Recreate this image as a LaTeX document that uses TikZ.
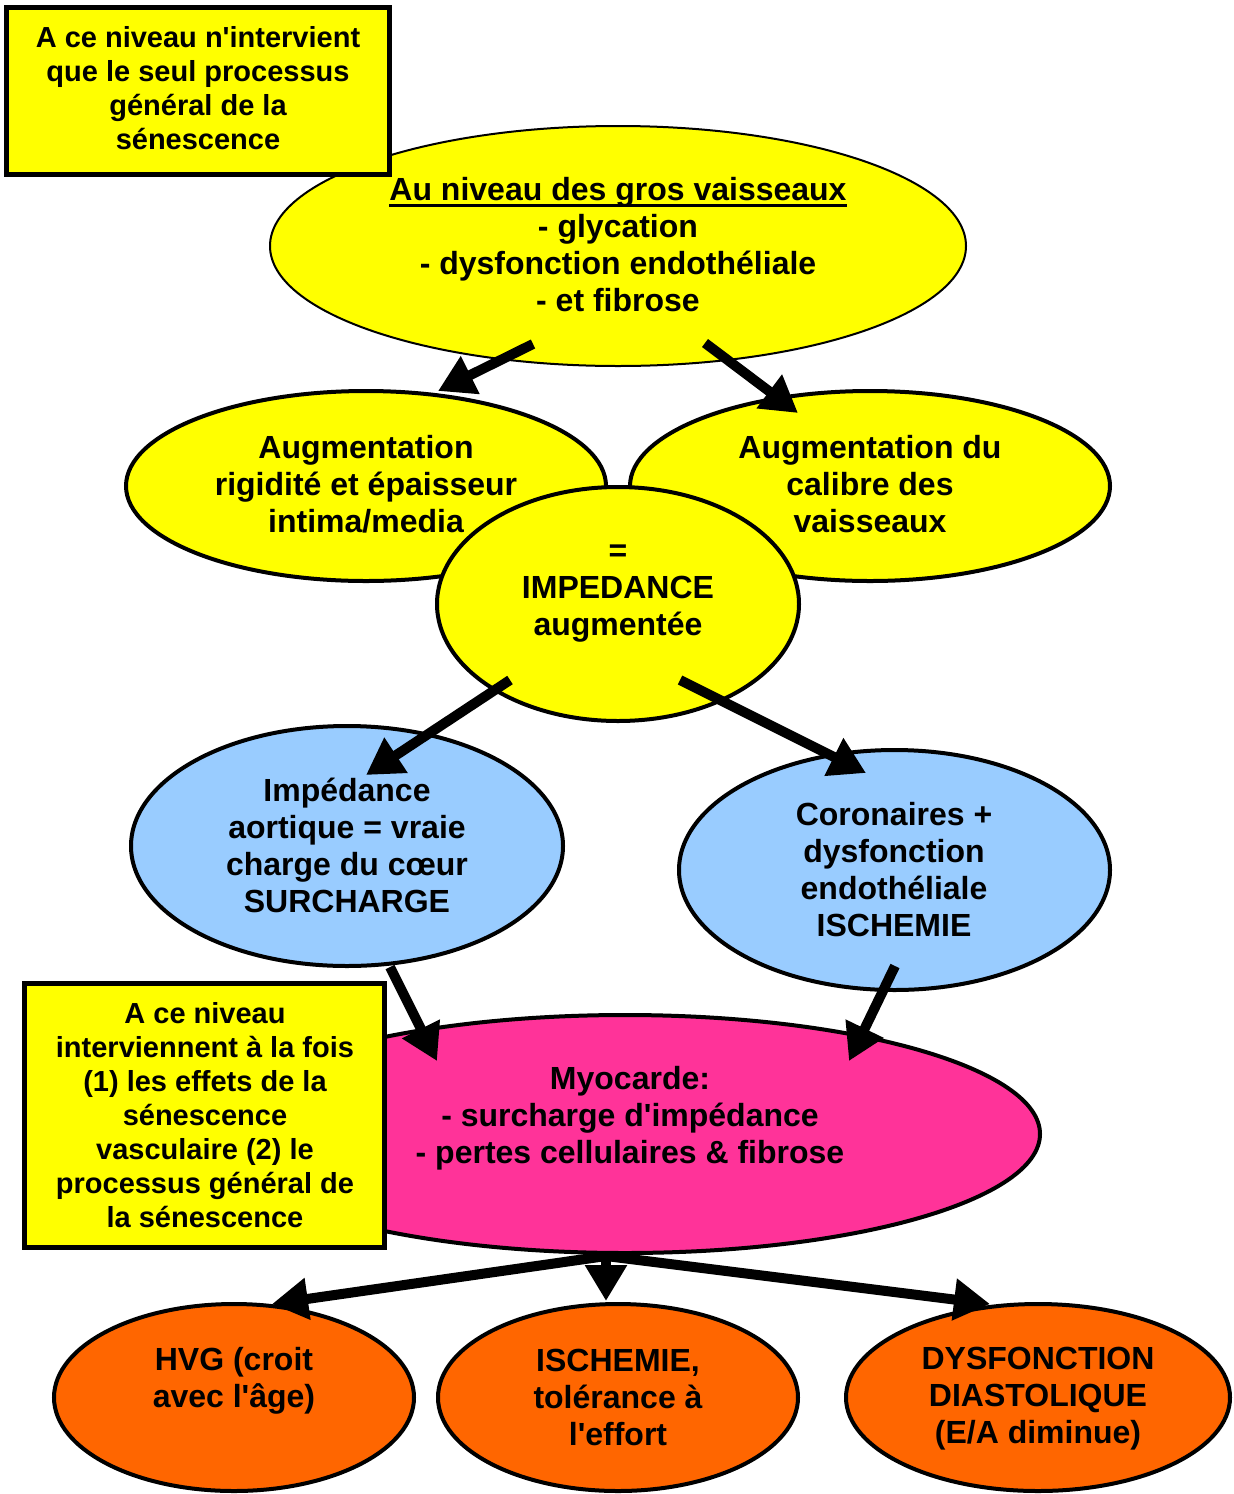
\documentclass[tikz,border=0pt]{standalone}
\usepackage{fontspec}
\setmainfont{Liberation Sans}[Ligatures=TeXOff]
\usetikzlibrary{arrows.meta,shapes.geometric}
\definecolor{cyel}{HTML}{FFFF00}
\definecolor{cblue}{HTML}{99CCFF}
\definecolor{cpink}{HTML}{FF3399}
\definecolor{corange}{HTML}{FF6600}
\newcommand\ulbox[1]{\setbox0\hbox{#1}\rlap{\rule[-3pt]{\wd0}{1.3pt}}\box0}
\begin{document}
\begin{tikzpicture}[x=0.5pt,y=-0.5pt,
  ell/.style={ellipse, draw, line width=2pt, inner sep=0pt},
  txt/.style={align=center, font=\bfseries\fontsize{16}{18.5}\selectfont, inner sep=0pt},
  btxt/.style={align=center, font=\bfseries\fontsize{14.5}{17}\selectfont, inner sep=0pt},
  box/.style={draw, line width=2.5pt, fill=cyel, inner sep=0pt},
  arr/.style={line width=5pt, -{Triangle[length=18pt,width=20pt]}}]
\useasboundingbox (0,0) rectangle (1234,1494);

% top ellipse
\node[ell, line width=1pt, fill=cyel, minimum width=348pt, minimum height=120pt] (top) at (618,246) {};
\node[txt] (topT) at (618,245) {\ulbox{Au niveau des gros vaisseaux}\\- glycation\\- dysfonction endothéliale\\- et fibrose};

% top box
\node[box, minimum width=191.5pt, minimum height=83.75pt] (box1) at (198,90.75) {};
\node[btxt] (box1T) at (198,88) {A ce niveau n'intervient\\que le seul processus\\général de la\\sénescence};

% second level
\node[ell, fill=cyel, minimum width=240pt, minimum height=95pt] (L) at (366,486) {};
\node[txt] (LT) at (366,484) {Augmentation\\rigidité et épaisseur\\intima/media};
\node[ell, fill=cyel, minimum width=240pt, minimum height=95pt] (R) at (870,486) {};
\node[txt] (RT) at (870,484) {Augmentation du\\calibre des\\vaisseaux};

% impedance
\node[ell, fill=cyel, minimum width=181pt, minimum height=117pt] (imp) at (618,604) {};
\node[txt] (impT) at (618,594) {=\\IMPEDANCE\\augmentée};

% blue
\node[ell, fill=cblue, minimum width=216pt, minimum height=120pt] (BL) at (347,846) {};
\node[txt] (BLT) at (347,845) {Impédance\\aortique = vraie\\charge du cœur\\SURCHARGE};
\node[ell, fill=cblue, minimum width=215.5pt, minimum height=120pt] (BR) at (894.5,870) {};
\node[txt] (BRT) at (894,870) {Coronaires +\\dysfonction\\endothéliale\\ISCHEMIE};

% pink
\node[ell, fill=cpink, minimum width=415pt, minimum height=119pt] (myo) at (625,1134) {};
\node[txt] (myoT) at (630,1118.5) {Myocarde:\\- surcharge d'impédance\\- pertes cellulaires \& fibrose};

% second box
\node[box, minimum width=180pt, minimum height=132pt] (box2) at (204.5,1115.5) {};
\node[btxt] (box2T) at (205,1115) {A ce niveau\\interviennent à la fois\\(1) les effets de la\\sénescence\\vasculaire (2) le\\processus général de\\la sénescence};

% orange
\node[ell, fill=corange, minimum width=180pt, minimum height=93.5pt] (OL) at (234,1397.5) {};
\node[txt] (OLT) at (234,1380.5) {HVG (croit\\avec l'âge)};
\node[ell, fill=corange, minimum width=180pt, minimum height=93.5pt] (OM) at (618,1397.5) {};
\node[txt] (OMT) at (618,1397) {ISCHEMIE,\\tolérance à\\l'effort};
\node[ell, fill=corange, minimum width=192pt, minimum height=93.5pt] (OR) at (1038,1397.5) {};
\node[txt] (ORT) at (1038,1399) {DYSFONCTION\\DIASTOLIQUE\\(E/A diminue)};

% arrows
\draw[arr] ([shift={(-85,98)}]top.center) -- ([shift={(72,-95)}]L.center);
\draw[arr] ([shift={(87,97)}]top.center) -- ([shift={(-72,-73)}]R.center);
\draw[arr] ([shift={(-108,76)}]imp.center) -- ([shift={(19,-71)}]BL.center);
\draw[arr] ([shift={(62,76)}]imp.center) -- ([shift={(-28.5,-97)}]BR.center);
\draw[arr] ([shift={(43,121)}]BL.center) -- ([shift={(-188,-73)}]myo.center);
\draw[arr] ([shift={(0.5,96)}]BR.center) -- ([shift={(224,-73)}]myo.center);
\draw[arr] ([shift={(-19,122)}]myo.center) -- ([shift={(38,-93.5)}]OL.center);
\draw[arr] ([shift={(-19,122)}]myo.center) -- ([shift={(-12,-96.5)}]OM.center);
\draw[arr] ([shift={(-19,122)}]myo.center) -- ([shift={(-48,-93.5)}]OR.center);
\end{tikzpicture}
\end{document}
